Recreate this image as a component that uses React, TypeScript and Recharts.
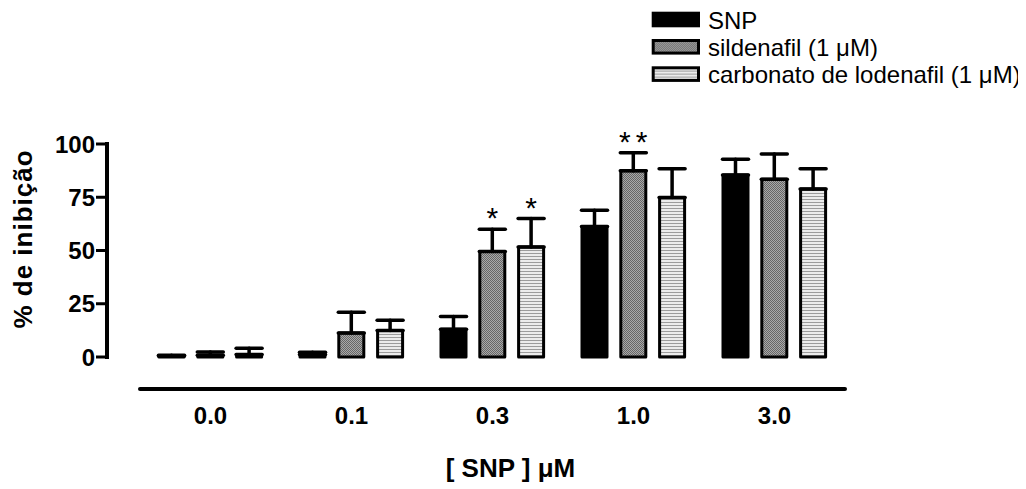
import React from 'react';
import { BarChart, Bar, XAxis, YAxis, ErrorBar, LabelList, Legend } from 'recharts';

// % inhibition per SNP concentration (mean + upper SEM)
const doses = ['0.0', '0.1', '0.3', '1.0', '3.0'];
const snpMean = [0.5, 1.2, 13, 61.3, 85.5];
const snpSem = [0.3, 1.0, 6, 7.6, 7.3];
const sildMean = [0.8, 11.3, 49.5, 87.4, 83.5];
const sildSem = [1.6, 9.7, 10.5, 8.5, 11.8];
const lodMean = [1.2, 12.4, 51.6, 74.9, 78.9];
const lodSem = [2.9, 4.8, 13.4, 13.5, 9.5];
const sildStars = ['', '', '*', '**', ''];
const lodStars = ['', '', '*', '', ''];
const yTicks = [0, 25, 50, 75, 100];
const seriesNames = ['SNP', 'sildenafil (1 μM)', 'carbonato de lodenafil (1 μM)'];

const FONT = 'Arial, "Liberation Sans", Helvetica, sans-serif';

const data = doses.map((dose, i) => ({
  dose,
  snp: snpMean[i],
  snpErr: [0, snpSem[i]],
  sild: sildMean[i],
  sildErr: [0, sildSem[i]],
  sildStar: sildStars[i],
  lod: lodMean[i],
  lodErr: [0, lodSem[i]],
  lodStar: lodStars[i],
}));

// significance marks sit just above the error bar cap
const starLabel = (means: number[], sems: number[]) => (props: any) => {
  const { viewBox, index, value } = props;
  if (!value || !viewBox) return null;
  const { x, y, width, height } = viewBox;
  const top = y - (sems[index] * height) / means[index];
  return (
    <text
      x={x + width / 2 + (value.length - 1) * 2.5}
      y={top - 1}
      textAnchor="middle"
      fontSize={30}
      fontFamily={FONT}
      letterSpacing={value.length > 1 ? 5 : 0}
      fill="#000"
    >
      {value}
    </text>
  );
};

const LegendBox = (props: any) => {
  const payload = [...(props.payload || [])].sort(
    (a: any, b: any) => seriesNames.indexOf(a.value) - seriesNames.indexOf(b.value)
  );
  return (
    <svg width={384} height={90} style={{ display: 'block' }}>
      {payload.map((entry: any, i: number) => (
        <g key={entry.value} transform={`translate(0, ${i * 27.3})`}>
          <rect x={3.2} y={5.2} width={45.3} height={12.6} fill={entry.color} stroke="#000" strokeWidth={3} />
          <text x={58} y={20.5} fontSize={24} fontFamily={FONT} fill="#000">
            {entry.value}
          </text>
        </g>
      ))}
    </svg>
  );
};

const YTitle = (props: any) => {
  const { viewBox } = props;
  const cx = viewBox.x + 14.5;
  const cy = viewBox.y + viewBox.height / 2 - 11.5;
  return (
    <text
      x={cx}
      y={cy}
      transform={`rotate(-90 ${cx} ${cy})`}
      textAnchor="middle"
      dominantBaseline="central"
      fontSize={26}
      fontWeight="bold"
      letterSpacing={1}
      fontFamily={FONT}
      fill="#000"
    >
      % de inibição
    </text>
  );
};

const XTitle = (props: any) => {
  const { viewBox } = props;
  return (
    <text
      x={viewBox.x + viewBox.width / 2 + 18}
      y={viewBox.y + viewBox.height}
      textAnchor="middle"
      fontSize={26}
      fontWeight="bold"
      fontFamily={FONT}
      fill="#000"
    >
      [ SNP ] μM
    </text>
  );
};

export default function App() {
  return (
    <div style={{ width: 1010, height: 481, fontFamily: FONT }}>
      <BarChart
        width={1010}
        height={481}
        data={data}
        margin={{ top: 136, right: 173, bottom: 12, left: 0 }}
        barSize={25}
        barGap={13.8}
      >
        <defs>
          <pattern id="stipple" width={2} height={2} patternUnits="userSpaceOnUse">
            <rect width={2} height={2} fill="#a9a9a9" />
            <rect width={1} height={1} fill="#666" />
            <rect x={1} y={1} width={1} height={1} fill="#666" />
          </pattern>
          <pattern id="stripes" width={4} height={3} patternUnits="userSpaceOnUse">
            <rect width={4} height={3} fill="#ececec" />
            <rect y={2} width={4} height={1} fill="#9c9c9c" />
          </pattern>
        </defs>

        {/* empty axes only push the visible ones outward, leaving the detached-axis gap */}
        <XAxis xAxisId="a-gap" dataKey="dose" height={32} axisLine={false} tickLine={false} tick={false} />
        <XAxis
          xAxisId="b-dose"
          dataKey="dose"
          height={88}
          axisLine={{ stroke: '#000', strokeWidth: 4, strokeLinecap: 'round' }}
          tickLine={false}
          tickSize={0}
          tickMargin={18}
          tick={{ fill: '#000', fontSize: 24, fontWeight: 'bold', fontFamily: FONT }}
          label={<XTitle />}
        />
        <YAxis yAxisId="a-gap" width={33} axisLine={false} tickLine={false} tick={false} />
        <YAxis
          yAxisId="b-pct"
          width={99}
          domain={[0, 100]}
          ticks={yTicks}
          interval={0}
          axisLine={{ stroke: '#000', strokeWidth: 4, strokeLinecap: 'square' }}
          tickLine={{ stroke: '#000', strokeWidth: 3 }}
          tickSize={11}
          tickMargin={1}
          tick={{ fill: '#000', fontSize: 24, fontWeight: 'bold', fontFamily: FONT }}
          label={<YTitle />}
        />

        <Legend
          layout="horizontal"
          align="center"
          verticalAlign="middle"
          content={<LegendBox />}
          wrapperStyle={{ position: 'absolute', left: 642, top: 0, width: 384 }}
        />

        <Bar
          xAxisId="b-dose"
          yAxisId="b-pct"
          dataKey="snp"
          name={seriesNames[0]}
          fill="#000"
          stroke="#000"
          strokeWidth={3}
          strokeLinejoin="round"
          isAnimationActive={false}
        >
          <ErrorBar dataKey="snpErr" direction="y" width={13} stroke="#000" strokeWidth={3.5} strokeLinecap="round" />
        </Bar>
        <Bar
          xAxisId="b-dose"
          yAxisId="b-pct"
          dataKey="sild"
          name={seriesNames[1]}
          fill="url(#stipple)"
          stroke="#000"
          strokeWidth={3}
          strokeLinejoin="round"
          isAnimationActive={false}
        >
          <ErrorBar dataKey="sildErr" direction="y" width={13} stroke="#000" strokeWidth={3.5} strokeLinecap="round" />
          <LabelList dataKey="sildStar" content={starLabel(sildMean, sildSem)} />
        </Bar>
        <Bar
          xAxisId="b-dose"
          yAxisId="b-pct"
          dataKey="lod"
          name={seriesNames[2]}
          fill="url(#stripes)"
          stroke="#000"
          strokeWidth={3}
          strokeLinejoin="round"
          isAnimationActive={false}
        >
          <ErrorBar dataKey="lodErr" direction="y" width={13} stroke="#000" strokeWidth={3.5} strokeLinecap="round" />
          <LabelList dataKey="lodStar" content={starLabel(lodMean, lodSem)} />
        </Bar>
      </BarChart>
    </div>
  );
}
